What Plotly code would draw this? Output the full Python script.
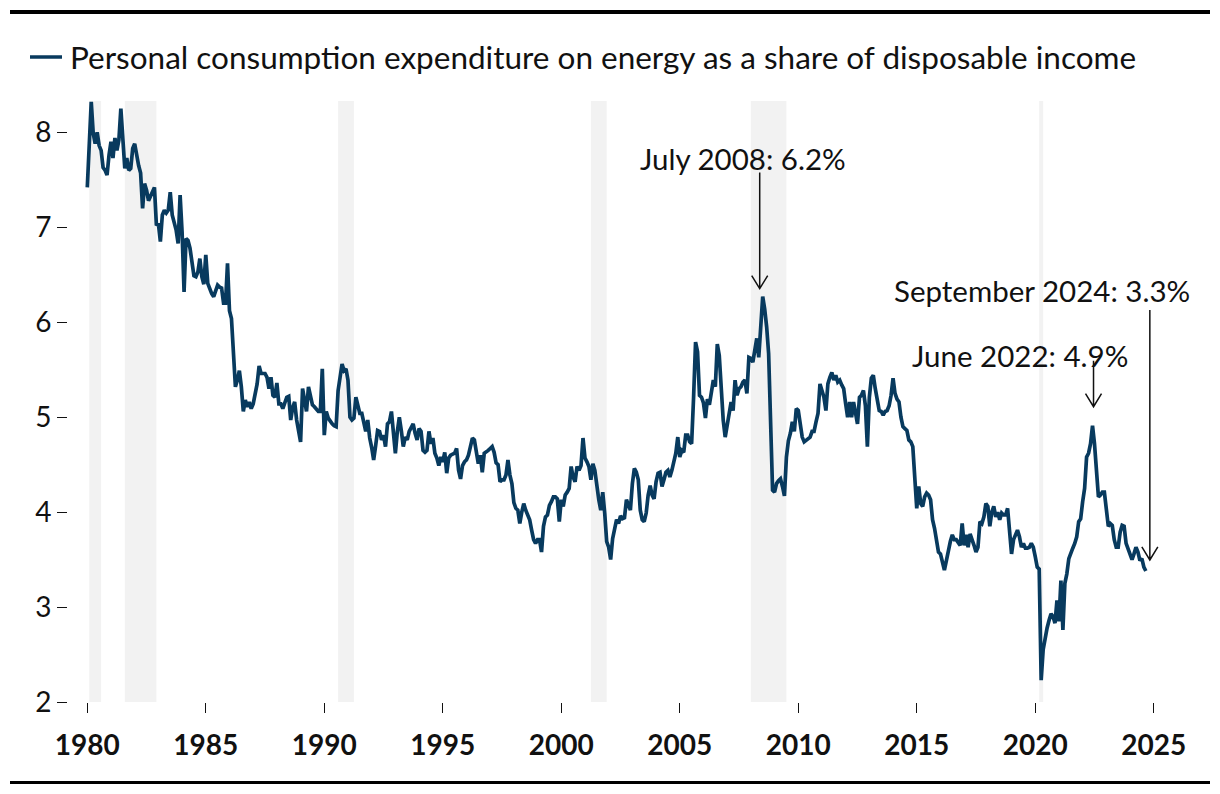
import plotly.graph_objects as go

# ---- data (monthly, Jan 1980 - Sep 2024), % of disposable income ----
v1980 = [7.42, 7.90, 8.32, 7.99, 7.88, 8.00, 7.86, 7.81, 7.63, 7.60, 7.55, 7.76]
v1981 = [7.90, 7.73, 7.94, 7.81, 7.92, 8.25, 7.85, 7.62, 7.73, 7.60, 7.62, 7.83]
v1982 = [7.88, 7.73, 7.65, 7.57, 7.20, 7.46, 7.39, 7.28, 7.32, 7.38, 7.42, 7.02]
v1983 = [7.04, 6.85, 7.13, 7.18, 7.15, 7.18, 7.37, 7.13, 7.05, 6.97, 6.83, 7.34]
v1984 = [6.95, 6.32, 6.88, 6.86, 6.78, 6.62, 6.49, 6.48, 6.53, 6.67, 6.48, 6.40]
v1985 = [6.71, 6.41, 6.35, 6.30, 6.27, 6.33, 6.39, 6.37, 6.36, 6.20, 6.20, 6.62]
v1986 = [6.12, 6.04, 5.71, 5.32, 5.39, 5.49, 5.32, 5.06, 5.18, 5.11, 5.16, 5.09]
v1987 = [5.14, 5.25, 5.35, 5.54, 5.46, 5.46, 5.46, 5.42, 5.30, 5.42, 5.23, 5.21]
v1988 = [5.36, 5.14, 5.14, 5.09, 5.15, 5.21, 5.22, 4.97, 5.10, 5.16, 4.97, 4.85]
v1989 = [4.74, 5.30, 5.15, 5.06, 5.32, 5.21, 5.13, 5.11, 5.08, 5.06, 5.06, 5.51]
v1990 = [4.81, 5.06, 4.99, 4.95, 4.93, 4.91, 4.90, 5.28, 5.42, 5.56, 5.49, 5.51]
v1991 = [5.39, 5.00, 4.97, 4.99, 5.21, 5.10, 5.04, 5.04, 4.93, 4.85, 4.97, 4.78]
v1992 = [4.68, 4.55, 4.70, 4.86, 4.85, 4.76, 4.81, 4.69, 4.93, 4.95, 5.06, 4.88]
v1993 = [4.62, 4.85, 5.00, 4.86, 4.69, 4.79, 4.76, 4.85, 4.90, 4.93, 4.83, 4.76]
v1994 = [4.88, 4.85, 4.65, 4.63, 4.65, 4.85, 4.72, 4.78, 4.62, 4.57, 4.49, 4.58]
v1995 = [4.53, 4.63, 4.41, 4.57, 4.60, 4.61, 4.62, 4.67, 4.44, 4.35, 4.49, 4.53]
v1996 = [4.55, 4.60, 4.71, 4.78, 4.76, 4.60, 4.51, 4.60, 4.42, 4.62, 4.63, 4.65]
v1997 = [4.67, 4.69, 4.63, 4.52, 4.50, 4.32, 4.34, 4.34, 4.39, 4.55, 4.39, 4.30]
v1998 = [4.10, 4.04, 4.02, 3.88, 4.00, 4.09, 4.02, 3.97, 3.92, 3.81, 3.71, 3.67]
v1999 = [3.71, 3.71, 3.58, 3.85, 3.95, 3.97, 4.07, 4.11, 4.16, 4.16, 4.14, 3.90]
v2000 = [4.13, 4.06, 4.18, 4.21, 4.25, 4.48, 4.37, 4.32, 4.48, 4.44, 4.49, 4.78]
v2001 = [4.57, 4.53, 4.48, 4.34, 4.51, 4.44, 4.25, 4.13, 4.02, 4.21, 3.99, 3.69]
v2002 = [3.63, 3.50, 3.72, 3.83, 3.92, 3.88, 3.96, 3.93, 3.94, 4.13, 4.06, 4.02]
v2003 = [4.30, 4.46, 4.42, 4.34, 4.02, 3.92, 3.90, 3.99, 4.18, 4.28, 4.18, 4.14]
v2004 = [4.32, 4.41, 4.42, 4.27, 4.34, 4.42, 4.44, 4.37, 4.44, 4.55, 4.62, 4.79]
v2005 = [4.58, 4.65, 4.63, 4.81, 4.81, 4.74, 4.72, 5.21, 5.79, 5.69, 5.23, 5.21]
v2006 = [5.15, 4.99, 5.19, 5.13, 5.25, 5.39, 5.32, 5.77, 5.65, 5.28, 4.97, 4.79]
v2007 = [4.90, 5.04, 5.16, 5.07, 5.39, 5.23, 5.30, 5.32, 5.37, 5.39, 5.25, 5.63]
v2008 = [5.62, 5.58, 5.72, 5.83, 5.63, 5.99, 6.27, 6.14, 5.95, 5.67, 5.07, 4.23]
v2009 = [4.21, 4.30, 4.33, 4.35, 4.27, 4.17, 4.58, 4.75, 4.83, 4.95, 4.85, 5.09]
v2010 = [5.07, 4.93, 4.79, 4.74, 4.76, 4.77, 4.79, 4.85, 4.85, 4.95, 5.04, 5.35]
v2011 = [5.28, 5.21, 5.07, 5.35, 5.42, 5.47, 5.39, 5.44, 5.37, 5.39, 5.34, 5.30]
v2012 = [5.14, 5.00, 5.16, 5.00, 5.16, 5.04, 4.93, 5.21, 5.23, 5.28, 5.12, 4.69]
v2013 = [5.21, 5.41, 5.44, 5.30, 5.16, 5.07, 5.06, 5.02, 5.06, 5.07, 5.12, 5.23]
v2014 = [5.41, 5.25, 5.19, 5.16, 5.00, 4.90, 4.88, 4.86, 4.76, 4.74, 4.69, 4.30]
v2015 = [4.04, 4.27, 4.09, 4.06, 4.16, 4.20, 4.18, 4.13, 3.92, 3.83, 3.71, 3.58]
v2016 = [3.56, 3.48, 3.39, 3.49, 3.60, 3.69, 3.76, 3.71, 3.71, 3.67, 3.65, 3.88]
v2017 = [3.65, 3.76, 3.63, 3.77, 3.72, 3.65, 3.58, 3.63, 3.90, 3.88, 3.95, 4.09]
v2018 = [4.06, 3.85, 4.00, 4.06, 3.95, 4.00, 3.92, 3.99, 3.97, 3.97, 4.04, 3.80]
v2019 = [3.56, 3.71, 3.76, 3.81, 3.74, 3.63, 3.67, 3.62, 3.62, 3.63, 3.67, 3.63]
v2020 = [3.53, 3.42, 3.40, 2.23, 2.55, 2.70, 2.78, 2.86, 2.93, 2.90, 2.83, 3.07]
v2021 = [2.85, 3.28, 2.76, 3.25, 3.35, 3.51, 3.58, 3.62, 3.67, 3.74, 3.90, 3.93]
v2022 = [4.11, 4.25, 4.58, 4.62, 4.72, 4.91, 4.72, 4.44, 4.16, 4.18, 4.21, 4.21]
v2023 = [4.02, 3.85, 3.88, 3.86, 3.71, 3.63, 3.63, 3.79, 3.86, 3.85, 3.67, 3.62]
v2024 = [3.55, 3.50, 3.56, 3.63, 3.58, 3.49, 3.51, 3.42, 3.38]

years = list(range(1980, 2025))
series_by_year = [v1980, v1981, v1982, v1983, v1984, v1985, v1986, v1987, v1988, v1989,
                  v1990, v1991, v1992, v1993, v1994, v1995, v1996, v1997, v1998, v1999,
                  v2000, v2001, v2002, v2003, v2004, v2005, v2006, v2007, v2008, v2009,
                  v2010, v2011, v2012, v2013, v2014, v2015, v2016, v2017, v2018, v2019,
                  v2020, v2021, v2022, v2023, v2024]

# NBER recessions: (start year, start month, end year, end month) - shaded months
recessions = [(1980, 2, 1980, 7), (1981, 8, 1982, 11), (1990, 8, 1991, 3),
              (2001, 4, 2001, 11), (2008, 1, 2009, 6), (2020, 3, 2020, 4)]

# annotated points: (year, month, label)
callouts = [(2008, 7, "July 2008: 6.2%"), (2022, 6, "June 2022: 4.9%"),
            (2024, 9, "September 2024: 3.3%")]

x_ticks = list(range(1980, 2026, 5))
y_ticks = [2, 3, 4, 5, 6, 7, 8]

legend_name = "Personal consumption expenditure on energy as a share of disposable income"

# ---- build series ----
xs, ys = [], []
for yr, vals in zip(years, series_by_year):
    for m, v in enumerate(vals):
        xs.append(yr + m / 12.0)
        ys.append(v)

def value_at(yr, mo):
    return series_by_year[yr - 1980][mo - 1]

FONT = "Lato"
LINE_COLOR = "#083a5e"
TXT = "#111111"

# the page has an 8px body margin; targets below are in screen pixels
OFF = 8
W, H = 1220, 794
L, R, T, B = 68 - OFF, W - (1190 - OFF), 101 - OFF, H - (702 - OFF)
PW, PH = W - L - R, H - T - B

def px_x(p):
    return (p - OFF - L) / PW

def px_y(p):
    return 1 - (p - OFF - T) / PH

fig = go.Figure()
fig.add_trace(go.Scatter(x=xs, y=ys, mode="lines", name=legend_name,
                         line=dict(color=LINE_COLOR, width=3.7), showlegend=False))

shapes = []
for y0_, m0_, y1_, m1_ in recessions:
    shapes.append(dict(type="rect", xref="x", yref="paper",
                       x0=y0_ + (m0_ - 1) / 12.0, x1=y1_ + m1_ / 12.0, y0=0, y1=1,
                       fillcolor="#f2f2f2", line=dict(width=0), layer="below"))

# arrow geometry (pixels relative to data point): dx, tip gap, length, text dx, text dy
arrow_geom = {(2008, 7): (-3, 8, 116, -20, 138),
              (2022, 6): (1, 19, 46, -73, 70),
              (2024, 9): (4, 11, 250, -104, 280)}
annotations = []
for yr, mo, label in callouts:
    xa = yr + (mo - 1) / 12.0
    ya = value_at(yr, mo)
    dx, gap, length, tx, ty = arrow_geom[(yr, mo)]
    path = (f"M {dx},{gap} L {dx},{gap + length} "
            f"M {dx - 8},{gap + 13} L {dx},{gap} L {dx + 8},{gap + 13}")
    shapes.append(dict(type="path", xref="x", yref="y", xsizemode="pixel",
                       ysizemode="pixel", xanchor=xa, yanchor=ya, path=path,
                       line=dict(color=TXT, width=1.5)))
    annotations.append(dict(x=xa, y=ya, xref="x", yref="y", text=label,
                            showarrow=False, xshift=tx, yshift=ty,
                            xanchor="center", yanchor="middle",
                            font=dict(family=FONT, size=29.5, color=TXT)))

# legend (line key + label) at the top
shapes.append(dict(type="line", xref="paper", yref="paper", x0=px_x(30), x1=px_x(62),
                   y0=px_y(57), y1=px_y(57), line=dict(color=LINE_COLOR, width=3.5)))
annotations.append(dict(x=px_x(68), y=px_y(57), xref="paper", yref="paper",
                        text=legend_name, showarrow=False, xanchor="left",
                        yanchor="middle", font=dict(family=FONT, size=31.5, color=TXT)))

# top and bottom rules
shapes.append(dict(type="line", xref="paper", yref="paper", x0=px_x(10), x1=px_x(1210),
                   y0=px_y(12), y1=px_y(12), line=dict(color="#000000", width=4)))
shapes.append(dict(type="line", xref="paper", yref="paper", x0=px_x(10), x1=px_x(1210),
                   y0=px_y(782.5), y1=px_y(782.5), line=dict(color="#000000", width=3)))

fig.update_layout(
    width=W, height=H,
    margin=dict(l=L, r=R, t=T, b=B, autoexpand=False),
    paper_bgcolor="white", plot_bgcolor="white",
    font=dict(family=FONT, size=28, color=TXT),
    shapes=shapes, annotations=annotations,
    showlegend=False,
    xaxis=dict(range=[1979.186, 2026.53], tickmode="array", tickvals=x_ticks,
               ticktext=[f"<b>{t}</b>" for t in x_ticks], ticks="outside", ticklen=10,
               tickcolor=TXT, tickwidth=1, showgrid=False, zeroline=False,
               showline=False, automargin=False, ticklabelstandoff=8,
               tickfont=dict(family=FONT, size=28, color=TXT)),
    yaxis=dict(range=[2, 8.33], tickmode="array", tickvals=y_ticks, ticks="outside",
               ticklen=10, tickcolor=TXT, tickwidth=1, showgrid=False,
               zeroline=False, showline=False, automargin=False,
               tickfont=dict(family=FONT, size=28, color=TXT)),
)

fig.write_html("out.html")
